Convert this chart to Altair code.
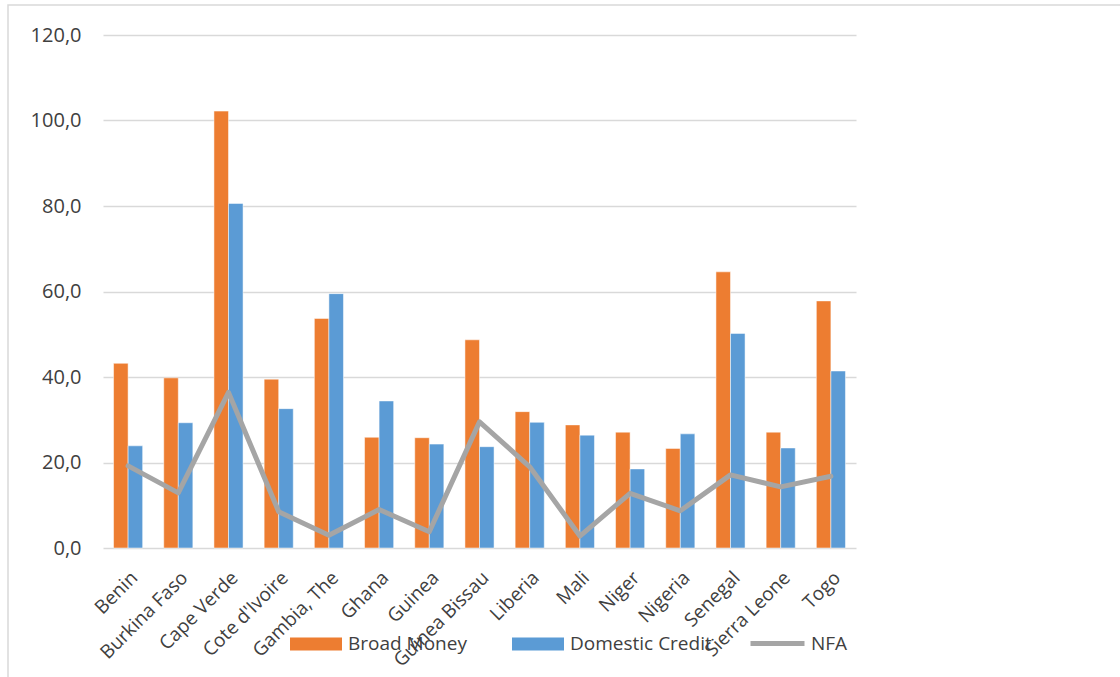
import altair as alt
import pandas as pd

countries = ["Benin", "Burkina Faso", "Cape Verde", "Cote d'Ivoire", "Gambia, The", "Ghana",
             "Guinea", "Guinea Bissau", "Liberia", "Mali", "Niger", "Nigeria", "Senegal",
             "Sierra Leone", "Togo"]
broad_money = [43.2, 39.8, 102.2, 39.5, 53.7, 25.9, 25.8, 48.7, 31.9, 28.8, 27.1, 23.3, 64.6, 27.1, 57.8]
domestic_credit = [23.9, 29.3, 80.6, 32.6, 59.5, 34.4, 24.3, 23.7, 29.4, 26.4, 18.5, 26.7, 50.2, 23.4, 41.4]
nfa = [19.2, 12.9, 36.4, 8.5, 3.0, 9.0, 3.8, 29.5, 19.0, 2.8, 12.8, 8.7, 17.1, 14.3, 16.8]

series_bars = ["Broad Money", "Domestic Credit"]
bar_colors = ["#ED7D31", "#5B9BD5"]
line_color = "#A5A5A5"
text_color = "#404040"
font = "Open Sans"

rows = []
for c, b, d in zip(countries, broad_money, domestic_credit):
    rows.append({"country": c, "series": "Broad Money", "value": b})
    rows.append({"country": c, "series": "Domestic Credit", "value": d})
bars_df = pd.DataFrame(rows)
line_df = pd.DataFrame({"country": countries, "series": ["NFA"] * len(countries), "value": nfa})

W, H = 753, 513
PL, PT = 103, 35

x_enc = alt.X("country:N", sort=countries, title=None,
              scale=alt.Scale(paddingInner=0.42, paddingOuter=0.21),
              axis=alt.Axis(labelAngle=-45, labelFontSize=19, labelColor=text_color,
                            labelFont=font, domain=False, ticks=False, labelPadding=20))
y_enc = alt.Y("value:Q", title=None,
              scale=alt.Scale(domain=[0, 120]),
              axis=alt.Axis(values=[0, 20, 40, 60, 80, 100, 120],
                            labelExpr="replace(format(datum.value, '.1f'), '.', ',')",
                            labelFontSize=20, labelColor=text_color, labelFont=font,
                            domain=False, ticks=False, labelPadding=22,
                            gridColor="#D9D9D9", gridWidth=1.5))

bars = alt.Chart(bars_df).mark_bar(stroke="white", strokeWidth=0.5).encode(
    x=x_enc,
    xOffset=alt.XOffset("series:N", sort=series_bars, scale=alt.Scale(paddingInner=0, paddingOuter=0)),
    y=y_enc,
    fill=alt.Fill("series:N", sort=series_bars,
                  scale=alt.Scale(domain=series_bars, range=bar_colors),
                  legend=alt.Legend(title=None, orient="none", direction="horizontal",
                                    legendX=290 - PL, legendY=618 - PT,
                                    symbolType="M-1,-0.25H1V0.25H-1Z", symbolSize=2704,
                                    symbolStrokeWidth=0, labelFontSize=19,
                                    labelColor=text_color, labelFont=font,
                                    columnPadding=45, labelOffset=6)),
)

line = alt.Chart(line_df).mark_line(strokeWidth=5, strokeCap="round", strokeJoin="round").encode(
    x=alt.X("country:N", sort=countries),
    y=alt.Y("value:Q"),
    stroke=alt.Stroke("series:N", scale=alt.Scale(domain=["NFA"], range=[line_color]),
                      legend=alt.Legend(title=None, orient="none", direction="horizontal",
                                        legendX=752 - PL - 4, legendY=614 - PT,
                                        symbolType="stroke", symbolSize=2916,
                                        symbolStrokeWidth=5, labelFontSize=19,
                                        labelColor=text_color, labelFont=font,
                                        labelOffset=4)),
)

frame = alt.Chart(pd.DataFrame({"a": [0]})).mark_rect(fill=None, stroke="#D9D9D9", strokeWidth=1.5).encode(
    x=alt.value(8 - PL), x2=alt.value(1130 - PL),
    y=alt.value(5 - PT), y2=alt.value(700 - PT),
)

chart = alt.layer(frame, bars, line).properties(
    width=W, height=H,
    background="white",
    padding={"left": PL, "top": PT, "right": 1120 - PL - W, "bottom": 677 - PT - H},
    autosize=alt.AutoSizeParams(type="none"),
).configure_view(strokeWidth=0, strokeOpacity=0)

chart.save("out.html", embed_options={"renderer": "svg", "actions": False})
